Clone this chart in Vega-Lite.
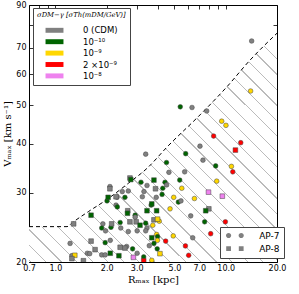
{
 "$schema": "https://vega.github.io/schema/vega-lite/v6.json",
 "width": 248, "height": 257,
 "autosize": {"type": "none"},
 "padding": {"left": 29, "top": 5, "right": 22, "bottom": 32},
 "background": "white",
 "config": {
  "view": {"stroke": "#000", "strokeWidth": 1},
  "axis": {"domain": false, "grid": false, "tickColor": "#000", "tickSize": -4, "tickWidth": 0.8, "labelFont": "DejaVu Sans", "labelFontSize": 8, "labelColor": "#000", "titleFont": "DejaVu Serif", "titleFontWeight": "normal", "titleFontSize": 10, "titleColor": "#000", "zindex": 1}
 },
 "datasets": {
  "curve": [
   {"R": 0.7, "V": 24.6}, {"R": 1.17, "V": 24.6}, {"R": 1.26, "V": 25.2}, {"R": 1.56, "V": 26.85}, {"R": 2.0, "V": 28.8}, {"R": 2.68, "V": 31.7}, {"R": 3.45, "V": 34.6}, {"R": 4.55, "V": 39.3}, {"R": 7.06, "V": 47.3}, {"R": 10.1, "V": 55.6}, {"R": 13.9, "V": 65.2}, {"R": 20, "V": 76.3}
  ],
  "pts": [
   {"R": 14.2, "V": 72.9, "s": "0 (CDM)", "sim": "AP-7"},
   {"R": 14.0, "V": 54.4, "s": "10⁻⁹", "sim": "AP-7"},
   {"R": 5.41, "V": 49.6, "s": "10⁻¹⁰", "sim": "AP-7"},
   {"R": 6.34, "V": 49.4, "s": "0 (CDM)", "sim": "AP-7"},
   {"R": 7.73, "V": 48.4, "s": "0 (CDM)", "sim": "AP-7"},
   {"R": 9.47, "V": 45.6, "s": "10⁻⁹", "sim": "AP-7"},
   {"R": 10.03, "V": 44.5, "s": "10⁻⁹", "sim": "AP-7"},
   {"R": 8.49, "V": 41.8, "s": "2 ×10⁻⁹", "sim": "AP-7"},
   {"R": 12.25, "V": 40.2, "s": "2 ×10⁻⁹", "sim": "AP-7"},
   {"R": 7.06, "V": 39.4, "s": "0 (CDM)", "sim": "AP-7"},
   {"R": 3.39, "V": 37.6, "s": "0 (CDM)", "sim": "AP-7"},
   {"R": 11.4, "V": 38.5, "s": "2 ×10⁻⁹", "sim": "AP-8"},
   {"R": 5.82, "V": 37.7, "s": "10⁻¹⁰", "sim": "AP-7"},
   {"R": 7.35, "V": 36.3, "s": "0 (CDM)", "sim": "AP-7"},
   {"R": 4.49, "V": 35.8, "s": "10⁻¹⁰", "sim": "AP-7"},
   {"R": 8.73, "V": 35.1, "s": "10⁻¹⁰", "sim": "AP-7"},
   {"R": 10.8, "V": 35.0, "s": "10⁻⁹", "sim": "AP-7"},
   {"R": 11.0, "V": 33.9, "s": "2 ×10⁻⁹", "sim": "AP-7"},
   {"R": 4.64, "V": 33.8, "s": "0 (CDM)", "sim": "AP-7"},
   {"R": 5.74, "V": 33.9, "s": "0 (CDM)", "sim": "AP-7"},
   {"R": 2.74, "V": 32.7, "s": "0 (CDM)", "sim": "AP-8"},
   {"R": 2.77, "V": 32.4, "s": "10⁻¹⁰", "sim": "AP-8"},
   {"R": 3.18, "V": 31.9, "s": "10⁻¹⁰", "sim": "AP-7"},
   {"R": 3.45, "V": 31.3, "s": "0 (CDM)", "sim": "AP-7"},
   {"R": 3.79, "V": 32.3, "s": "10⁻¹⁰", "sim": "AP-8"},
   {"R": 4.40, "V": 31.9, "s": "10⁻¹⁰", "sim": "AP-7"},
   {"R": 4.5, "V": 31.4, "s": "0 (CDM)", "sim": "AP-7"},
   {"R": 5.37, "V": 32.3, "s": "10⁻¹⁰", "sim": "AP-7"},
   {"R": 8.85, "V": 32.1, "s": "10⁻⁹", "sim": "AP-7"},
   {"R": 3.87, "V": 30.7, "s": "0 (CDM)", "sim": "AP-8"},
   {"R": 4.27, "V": 30.8, "s": "10⁻¹⁰", "sim": "AP-7"},
   {"R": 5.52, "V": 30.8, "s": "10⁻⁹", "sim": "AP-7"},
   {"R": 4.23, "V": 29.7, "s": "10⁻¹⁰", "sim": "AP-7"},
   {"R": 2.09, "V": 31.1, "s": "0 (CDM)", "sim": "AP-7"},
   {"R": 2.09, "V": 30.7, "s": "0 (CDM)", "sim": "AP-8"},
   {"R": 2.47, "V": 30.2, "s": "0 (CDM)", "sim": "AP-7"},
   {"R": 2.68, "V": 30.3, "s": "0 (CDM)", "sim": "AP-7"},
   {"R": 3.31, "V": 30.2, "s": "0 (CDM)", "sim": "AP-7"},
   {"R": 2.27, "V": 29.3, "s": "0 (CDM)", "sim": "AP-8"},
   {"R": 2.04, "V": 29.2, "s": "10⁻¹⁰", "sim": "AP-8"},
   {"R": 2.01, "V": 28.6, "s": "10⁻¹⁰", "sim": "AP-7"},
   {"R": 2.56, "V": 29.2, "s": "10⁻¹⁰", "sim": "AP-7"},
   {"R": 2.30, "V": 29.2, "s": "0 (CDM)", "sim": "AP-7"},
   {"R": 3.24, "V": 29.3, "s": "0 (CDM)", "sim": "AP-7"},
   {"R": 3.91, "V": 29.2, "s": "0 (CDM)", "sim": "AP-7"},
   {"R": 4.95, "V": 29.2, "s": "10⁻⁹", "sim": "AP-7"},
   {"R": 6.55, "V": 29.0, "s": "10⁻⁹", "sim": "AP-7"},
   {"R": 5.27, "V": 28.4, "s": "10⁻¹⁰", "sim": "AP-7"},
   {"R": 5.46, "V": 28.6, "s": "0 (CDM)", "sim": "AP-7"},
   {"R": 7.92, "V": 30.1, "s": "10⁻⁸", "sim": "AP-8"},
   {"R": 9.55, "V": 29.4, "s": "10⁻⁸", "sim": "AP-8"},
   {"R": 2.27, "V": 27.9, "s": "0 (CDM)", "sim": "AP-7"},
   {"R": 2.31, "V": 27.6, "s": "10⁻¹⁰", "sim": "AP-7"},
   {"R": 2.66, "V": 27.0, "s": "0 (CDM)", "sim": "AP-8"},
   {"R": 2.65, "V": 26.6, "s": "10⁻¹⁰", "sim": "AP-8"},
   {"R": 2.94, "V": 26.3, "s": "10⁻¹⁰", "sim": "AP-7"},
   {"R": 3.45, "V": 27.0, "s": "10⁻¹⁰", "sim": "AP-8"},
   {"R": 3.68, "V": 28.1, "s": "10⁻¹⁰", "sim": "AP-8"},
   {"R": 3.65, "V": 27.9, "s": "10⁻¹⁰", "sim": "AP-7"},
   {"R": 3.93, "V": 27.0, "s": "10⁻¹⁰", "sim": "AP-8"},
   {"R": 4.71, "V": 27.3, "s": "10⁻⁹", "sim": "AP-7"},
   {"R": 7.96, "V": 27.3, "s": "0 (CDM)", "sim": "AP-8"},
   {"R": 7.63, "V": 27.0, "s": "10⁻¹⁰", "sim": "AP-8"},
   {"R": 6.23, "V": 26.2, "s": "0 (CDM)", "sim": "AP-7"},
   {"R": 7.52, "V": 25.3, "s": "10⁻¹⁰", "sim": "AP-7"},
   {"R": 9.95, "V": 25.3, "s": "2 ×10⁻⁹", "sim": "AP-7"},
   {"R": 3.79, "V": 25.6, "s": "0 (CDM)", "sim": "AP-8"},
   {"R": 3.98, "V": 25.7, "s": "10⁻⁹", "sim": "AP-8"},
   {"R": 4.07, "V": 25.4, "s": "10⁻⁹", "sim": "AP-7"},
   {"R": 3.73, "V": 24.8, "s": "10⁻⁹", "sim": "AP-7"},
   {"R": 8.16, "V": 23.6, "s": "2 ×10⁻⁹", "sim": "AP-7"},
   {"R": 6.4, "V": 23.05, "s": "0 (CDM)", "sim": "AP-7"},
   {"R": 4.92, "V": 23.3, "s": "10⁻⁹", "sim": "AP-7"},
   {"R": 3.93, "V": 23.5, "s": "10⁻⁹", "sim": "AP-7"},
   {"R": 3.68, "V": 23.05, "s": "10⁻¹⁰", "sim": "AP-8"},
   {"R": 3.98, "V": 23.2, "s": "10⁻¹⁰", "sim": "AP-7"},
   {"R": 3.97, "V": 22.7, "s": "10⁻⁹", "sim": "AP-7"},
   {"R": 4.44, "V": 22.6, "s": "2 ×10⁻⁹", "sim": "AP-7"},
   {"R": 5.8, "V": 21.97, "s": "2 ×10⁻⁹", "sim": "AP-7"},
   {"R": 3.79, "V": 22.3, "s": "10⁻¹⁰", "sim": "AP-7"},
   {"R": 3.96, "V": 21.6, "s": "10⁻¹⁰", "sim": "AP-7"},
   {"R": 4.11, "V": 21.0, "s": "10⁻⁹", "sim": "AP-8"},
   {"R": 6.06, "V": 20.8, "s": "2 ×10⁻⁹", "sim": "AP-7"},
   {"R": 3.68, "V": 20.2, "s": "10⁻⁹", "sim": "AP-7"},
   {"R": 1.62, "V": 26.3, "s": "10⁻¹⁰", "sim": "AP-8"},
   {"R": 1.28, "V": 25.0, "s": "0 (CDM)", "sim": "AP-8"},
   {"R": 1.90, "V": 25.0, "s": "0 (CDM)", "sim": "AP-7"},
   {"R": 2.14, "V": 25.0, "s": "0 (CDM)", "sim": "AP-8"},
   {"R": 1.87, "V": 24.4, "s": "10⁻¹⁰", "sim": "AP-7"},
   {"R": 2.12, "V": 24.5, "s": "10⁻¹⁰", "sim": "AP-7"},
   {"R": 2.42, "V": 24.4, "s": "0 (CDM)", "sim": "AP-7"},
   {"R": 2.40, "V": 25.2, "s": "10⁻¹⁰", "sim": "AP-7"},
   {"R": 2.74, "V": 25.3, "s": "0 (CDM)", "sim": "AP-8"},
   {"R": 2.98, "V": 25.3, "s": "0 (CDM)", "sim": "AP-8"},
   {"R": 2.94, "V": 26.0, "s": "0 (CDM)", "sim": "AP-7"},
   {"R": 3.14, "V": 24.8, "s": "10⁻¹⁰", "sim": "AP-8"},
   {"R": 3.45, "V": 24.4, "s": "0 (CDM)", "sim": "AP-7"},
   {"R": 2.68, "V": 23.9, "s": "0 (CDM)", "sim": "AP-7"},
   {"R": 3.02, "V": 24.0, "s": "0 (CDM)", "sim": "AP-7"},
   {"R": 3.39, "V": 24.0, "s": "0 (CDM)", "sim": "AP-7"},
   {"R": 3.39, "V": 25.1, "s": "10⁻¹⁰", "sim": "AP-7"},
   {"R": 1.97, "V": 24.0, "s": "0 (CDM)", "sim": "AP-7"},
   {"R": 1.96, "V": 22.4, "s": "10⁻¹⁰", "sim": "AP-7"},
   {"R": 2.10, "V": 22.7, "s": "0 (CDM)", "sim": "AP-7"},
   {"R": 1.62, "V": 22.6, "s": "0 (CDM)", "sim": "AP-8"},
   {"R": 1.71, "V": 21.5, "s": "0 (CDM)", "sim": "AP-8"},
   {"R": 1.54, "V": 21.05, "s": "0 (CDM)", "sim": "AP-7"},
   {"R": 1.59, "V": 21.0, "s": "0 (CDM)", "sim": "AP-7"},
   {"R": 1.87, "V": 20.85, "s": "0 (CDM)", "sim": "AP-7"},
   {"R": 1.96, "V": 20.85, "s": "0 (CDM)", "sim": "AP-7"},
   {"R": 2.10, "V": 21.05, "s": "10⁻¹⁰", "sim": "AP-8"},
   {"R": 2.36, "V": 20.75, "s": "10⁻¹⁰", "sim": "AP-8"},
   {"R": 2.40, "V": 21.8, "s": "0 (CDM)", "sim": "AP-8"},
   {"R": 2.56, "V": 21.7, "s": "0 (CDM)", "sim": "AP-8"},
   {"R": 2.62, "V": 21.9, "s": "0 (CDM)", "sim": "AP-7"},
   {"R": 2.84, "V": 21.6, "s": "10⁻¹⁰", "sim": "AP-7"},
   {"R": 3.02, "V": 21.05, "s": "0 (CDM)", "sim": "AP-7"},
   {"R": 2.87, "V": 20.55, "s": "10⁻⁸", "sim": "AP-8"},
   {"R": 3.30, "V": 20.15, "s": "2 ×10⁻⁹", "sim": "AP-8"},
   {"R": 3.30, "V": 20.6, "s": "10⁻¹⁰", "sim": "AP-7"},
   {"R": 3.56, "V": 22.0, "s": "0 (CDM)", "sim": "AP-7"},
   {"R": 1.22, "V": 22.3, "s": "0 (CDM)", "sim": "AP-7"},
   {"R": 1.46, "V": 20.15, "s": "0 (CDM)", "sim": "AP-8"},
   {"R": 1.30, "V": 20.8, "s": "10⁻⁹", "sim": "AP-8"},
   {"R": 1.25, "V": 20.4, "s": "0 (CDM)", "sim": "AP-8"},
   {"R": 1.25, "V": 20.75, "s": "0 (CDM)", "sim": "AP-7"}
  ]
 },
 "layer": [
  {
   "data": {"name": "curve"},
   "mark": {"type": "area", "interpolate": "monotone", "clip": true,
    "fill": {"gradient": "linear", "x1": 0, "y1": 1, "x2": 1, "y2": 0.0774, "stops": [
     {"offset": 0, "color": "#ffffff"},
     {"offset": 0.0022, "color": "#ffffff"}, {"offset": 0.0022, "color": "#bbbbbb"}, {"offset": 0.0052, "color": "#bbbbbb"}, {"offset": 0.0052, "color": "#ffffff"},
     {"offset": 0.0360, "color": "#ffffff"}, {"offset": 0.0360, "color": "#bbbbbb"}, {"offset": 0.0390, "color": "#bbbbbb"}, {"offset": 0.0390, "color": "#ffffff"},
     {"offset": 0.0697, "color": "#ffffff"}, {"offset": 0.0697, "color": "#bbbbbb"}, {"offset": 0.0727, "color": "#bbbbbb"}, {"offset": 0.0727, "color": "#ffffff"},
     {"offset": 0.1035, "color": "#ffffff"}, {"offset": 0.1035, "color": "#bbbbbb"}, {"offset": 0.1065, "color": "#bbbbbb"}, {"offset": 0.1065, "color": "#ffffff"},
     {"offset": 0.1373, "color": "#ffffff"}, {"offset": 0.1373, "color": "#bbbbbb"}, {"offset": 0.1403, "color": "#bbbbbb"}, {"offset": 0.1403, "color": "#ffffff"},
     {"offset": 0.1710, "color": "#ffffff"}, {"offset": 0.1710, "color": "#bbbbbb"}, {"offset": 0.1740, "color": "#bbbbbb"}, {"offset": 0.1740, "color": "#ffffff"},
     {"offset": 0.2048, "color": "#ffffff"}, {"offset": 0.2048, "color": "#bbbbbb"}, {"offset": 0.2078, "color": "#bbbbbb"}, {"offset": 0.2078, "color": "#ffffff"},
     {"offset": 0.2385, "color": "#ffffff"}, {"offset": 0.2385, "color": "#bbbbbb"}, {"offset": 0.2415, "color": "#bbbbbb"}, {"offset": 0.2415, "color": "#ffffff"},
     {"offset": 0.2723, "color": "#ffffff"}, {"offset": 0.2723, "color": "#bbbbbb"}, {"offset": 0.2753, "color": "#bbbbbb"}, {"offset": 0.2753, "color": "#ffffff"},
     {"offset": 0.3061, "color": "#ffffff"}, {"offset": 0.3061, "color": "#bbbbbb"}, {"offset": 0.3091, "color": "#bbbbbb"}, {"offset": 0.3091, "color": "#ffffff"},
     {"offset": 0.3398, "color": "#ffffff"}, {"offset": 0.3398, "color": "#bbbbbb"}, {"offset": 0.3428, "color": "#bbbbbb"}, {"offset": 0.3428, "color": "#ffffff"},
     {"offset": 0.3736, "color": "#ffffff"}, {"offset": 0.3736, "color": "#bbbbbb"}, {"offset": 0.3766, "color": "#bbbbbb"}, {"offset": 0.3766, "color": "#ffffff"},
     {"offset": 0.4073, "color": "#ffffff"}, {"offset": 0.4073, "color": "#bbbbbb"}, {"offset": 0.4103, "color": "#bbbbbb"}, {"offset": 0.4103, "color": "#ffffff"},
     {"offset": 0.4411, "color": "#ffffff"}, {"offset": 0.4411, "color": "#bbbbbb"}, {"offset": 0.4441, "color": "#bbbbbb"}, {"offset": 0.4441, "color": "#ffffff"},
     {"offset": 0.4749, "color": "#ffffff"}, {"offset": 0.4749, "color": "#bbbbbb"}, {"offset": 0.4779, "color": "#bbbbbb"}, {"offset": 0.4779, "color": "#ffffff"},
     {"offset": 0.5086, "color": "#ffffff"}, {"offset": 0.5086, "color": "#bbbbbb"}, {"offset": 0.5116, "color": "#bbbbbb"}, {"offset": 0.5116, "color": "#ffffff"},
     {"offset": 0.5424, "color": "#ffffff"}, {"offset": 0.5424, "color": "#bbbbbb"}, {"offset": 0.5454, "color": "#bbbbbb"}, {"offset": 0.5454, "color": "#ffffff"},
     {"offset": 0.5762, "color": "#ffffff"}, {"offset": 0.5762, "color": "#bbbbbb"}, {"offset": 0.5792, "color": "#bbbbbb"}, {"offset": 0.5792, "color": "#ffffff"},
     {"offset": 0.6099, "color": "#ffffff"}, {"offset": 0.6099, "color": "#bbbbbb"}, {"offset": 0.6129, "color": "#bbbbbb"}, {"offset": 0.6129, "color": "#ffffff"},
     {"offset": 0.6437, "color": "#ffffff"}, {"offset": 0.6437, "color": "#bbbbbb"}, {"offset": 0.6467, "color": "#bbbbbb"}, {"offset": 0.6467, "color": "#ffffff"},
     {"offset": 0.6774, "color": "#ffffff"}, {"offset": 0.6774, "color": "#bbbbbb"}, {"offset": 0.6804, "color": "#bbbbbb"}, {"offset": 0.6804, "color": "#ffffff"},
     {"offset": 0.7112, "color": "#ffffff"}, {"offset": 0.7112, "color": "#bbbbbb"}, {"offset": 0.7142, "color": "#bbbbbb"}, {"offset": 0.7142, "color": "#ffffff"},
     {"offset": 0.7450, "color": "#ffffff"}, {"offset": 0.7450, "color": "#bbbbbb"}, {"offset": 0.7480, "color": "#bbbbbb"}, {"offset": 0.7480, "color": "#ffffff"},
     {"offset": 0.7787, "color": "#ffffff"}, {"offset": 0.7787, "color": "#bbbbbb"}, {"offset": 0.7817, "color": "#bbbbbb"}, {"offset": 0.7817, "color": "#ffffff"},
     {"offset": 0.8125, "color": "#ffffff"}, {"offset": 0.8125, "color": "#bbbbbb"}, {"offset": 0.8155, "color": "#bbbbbb"}, {"offset": 0.8155, "color": "#ffffff"},
     {"offset": 0.8462, "color": "#ffffff"}, {"offset": 0.8462, "color": "#bbbbbb"}, {"offset": 0.8492, "color": "#bbbbbb"}, {"offset": 0.8492, "color": "#ffffff"},
     {"offset": 0.8800, "color": "#ffffff"}, {"offset": 0.8800, "color": "#bbbbbb"}, {"offset": 0.8830, "color": "#bbbbbb"}, {"offset": 0.8830, "color": "#ffffff"},
     {"offset": 0.9138, "color": "#ffffff"}, {"offset": 0.9138, "color": "#bbbbbb"}, {"offset": 0.9168, "color": "#bbbbbb"}, {"offset": 0.9168, "color": "#ffffff"},
     {"offset": 0.9475, "color": "#ffffff"}, {"offset": 0.9475, "color": "#bbbbbb"}, {"offset": 0.9505, "color": "#bbbbbb"}, {"offset": 0.9505, "color": "#ffffff"},
     {"offset": 0.9813, "color": "#ffffff"}, {"offset": 0.9813, "color": "#bbbbbb"}, {"offset": 0.9843, "color": "#bbbbbb"}, {"offset": 0.9843, "color": "#ffffff"},
     {"offset": 1, "color": "#ffffff"}
    ]}},
   "encoding": {
    "x": {"field": "R", "type": "quantitative", "scale": {"type": "log", "domain": [0.7, 20], "nice": false},
     "axis": {"orient": "bottom", "values": [0.7, 0.8, 0.9, 1, 2, 3, 4, 5, 6, 7, 8, 9, 10, 20], "format": ".1f",
      "labelExpr": "indexof([0.7, 1, 2, 3, 5, 7, 10, 20], datum.value) >= 0 ? datum.label : ''",
      "title": "Rₘₐₓ [kpc]", "labelPadding": 6, "titlePadding": 2, "labelFlush": false}},
    "y": {"field": "V", "type": "quantitative", "scale": {"type": "log", "domain": [20, 90], "nice": false},
     "axis": {"orient": "left", "values": [20, 30, 40, 50, 60, 70, 80, 90], "format": "d",
      "labelExpr": "datum.value == 80 ? '' : datum.label",
      "title": "Vₘₐₓ [km s⁻¹]", "labelPadding": 7, "titlePadding": 3, "labelFlush": false}},
    "y2": {"datum": 20}
   }
  },
  {
   "data": {"name": "curve"},
   "mark": {"type": "line", "interpolate": "monotone", "clip": true, "color": "#000", "strokeWidth": 1, "strokeDash": [4, 3]},
   "encoding": {
    "x": {"field": "R", "type": "quantitative", "axis": {"orient": "top", "values": [0.7, 0.8, 0.9, 1, 2, 3, 4, 5, 6, 7, 8, 9, 10, 20], "labels": false, "title": null}},
    "y": {"field": "V", "type": "quantitative", "axis": {"orient": "right", "values": [20, 30, 40, 50, 60, 70, 80, 90], "labels": false, "title": null}}
   }
  },
  {
   "data": {"name": "pts"},
   "transform": [{"filter": "datum.sim === 'AP-7'"}],
   "mark": {"type": "point", "shape": "circle", "filled": true, "opacity": 1, "size": 22, "stroke": "#444", "strokeWidth": 0.5, "clip": true},
   "encoding": {
    "x": {"field": "R", "type": "quantitative", "axis": null},
    "y": {"field": "V", "type": "quantitative", "axis": null},
    "color": {"field": "s", "type": "nominal",
     "scale": {"domain": ["0 (CDM)", "10⁻¹⁰", "10⁻⁹", "2 ×10⁻⁹", "10⁻⁸"], "range": ["#808080", "#006400", "#FFD700", "#FF0000", "#EE82EE"]},
     "legend": {"orient": "none", "legendX": 4, "legendY": 3, "title": "σDM−γ [σTh(mDM/GeV)]", "titleFont": "DejaVu Serif", "titleFontStyle": "italic", "titleFontWeight": "normal", "titleFontSize": 6.8, "titleColor": "#000", "titlePadding": 5,
      "symbolType": "M-1.38,-0.38H1.38V0.38H-1.38Z", "symbolSize": 169, "symbolStrokeWidth": 0, "symbolOffset": 11, "labelOffset": 22,
      "labelFont": "DejaVu Sans", "labelFontSize": 8.5, "labelColor": "#000", "rowPadding": 0.4, "padding": 4, "strokeColor": "#444", "fillColor": "#ffffff"}}
   }
  },
  {
   "data": {"name": "pts"},
   "transform": [{"filter": "datum.sim === 'AP-8'"}],
   "mark": {"type": "point", "shape": "square", "filled": true, "opacity": 1, "size": 22, "stroke": "#444", "strokeWidth": 0.5, "clip": true},
   "encoding": {
    "x": {"field": "R", "type": "quantitative", "axis": null},
    "y": {"field": "V", "type": "quantitative", "axis": null},
    "color": {"field": "s", "type": "nominal"}
   }
  },
  {
   "data": {"name": "pts"},
   "mark": {"type": "point", "filled": true, "color": "#808080", "stroke": "#444", "strokeWidth": 0.5, "opacity": 0, "size": 22},
   "encoding": {
    "x": {"field": "R", "type": "quantitative", "axis": null},
    "y": {"field": "V", "type": "quantitative", "axis": null},
    "shape": {"field": "sim", "type": "nominal",
     "scale": {"domain": ["AP-7", "AP-8"], "range": ["M-3.8,0A1.11,1.11 0 1,0 -1.58,0A1.11,1.11 0 1,0 -3.8,0Z M1.58,0A1.11,1.11 0 1,0 3.8,0A1.11,1.11 0 1,0 1.58,0Z", "M-3.71,-1.02H-1.67V1.02H-3.71Z M1.67,-1.02H3.71V1.02H1.67Z"]},
     "legend": {"orient": "none", "legendX": 191, "legendY": 222, "title": null, "symbolOpacity": 1, "symbolSize": 22,
      "symbolFillColor": "#808080", "symbolStrokeColor": "#444", "symbolStrokeWidth": 0.5,
      "symbolOffset": 6.4, "labelOffset": 19.8, "labelFont": "DejaVu Sans", "labelFontSize": 9, "labelColor": "#000", "rowPadding": 3.2, "padding": 4, "strokeColor": "#444", "fillColor": "#ffffff"}}
   }
  }
 ],
 "resolve": {"axis": {"x": "independent", "y": "independent"}}
}
